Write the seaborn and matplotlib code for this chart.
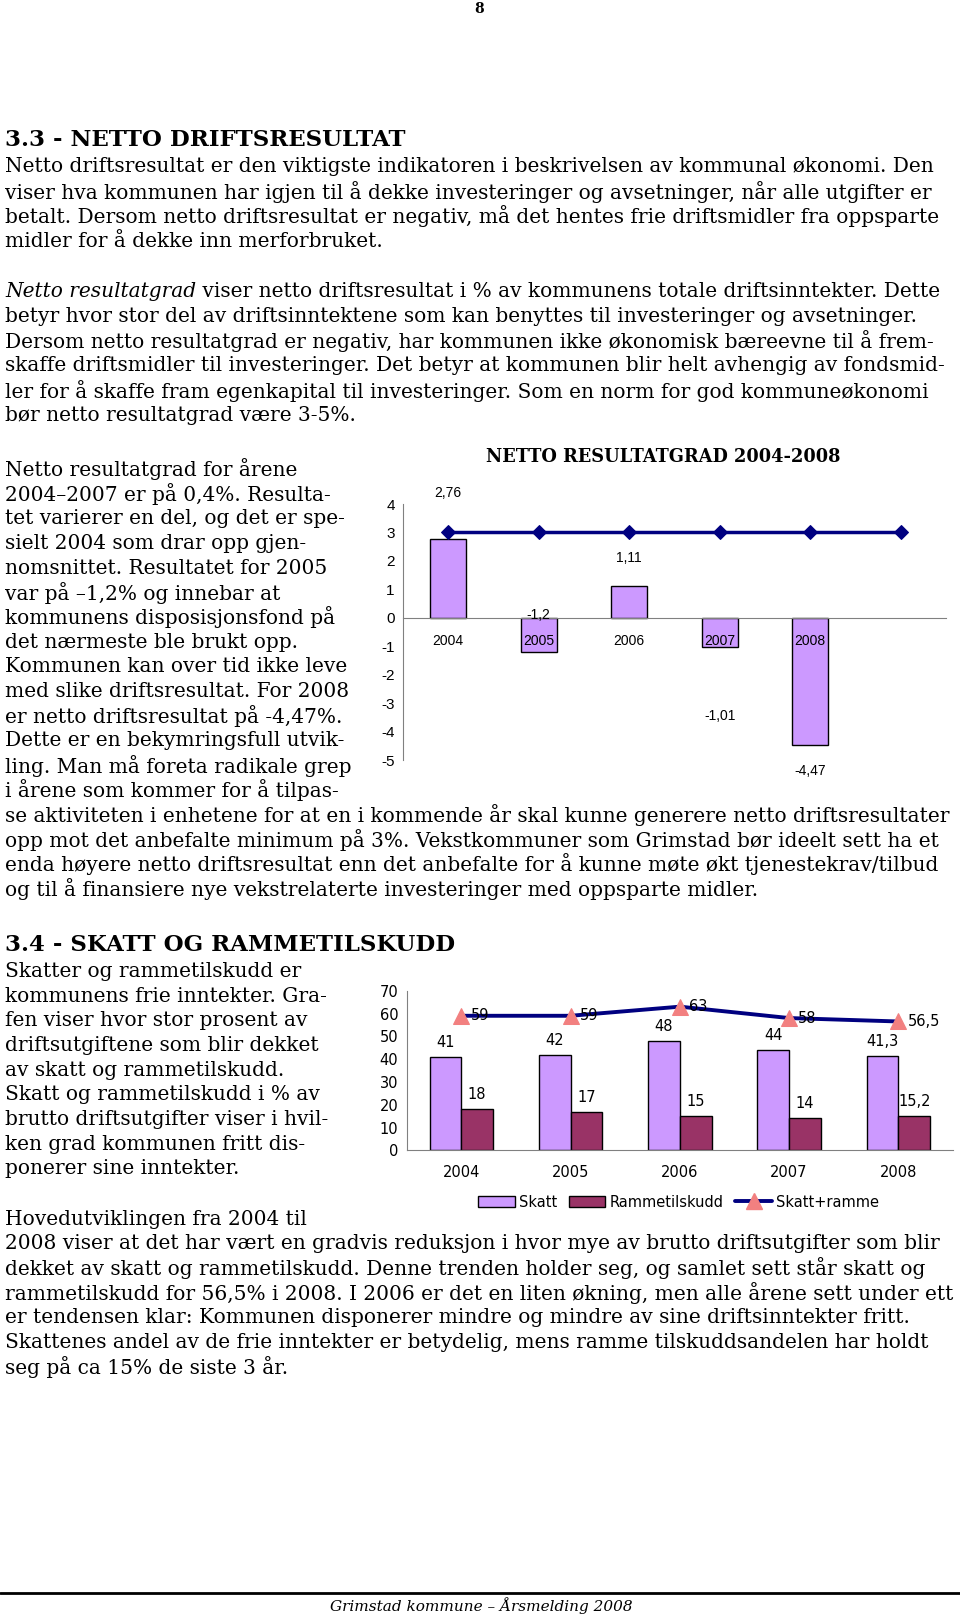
import numpy as np
import pandas as pd
import matplotlib
matplotlib.use('Agg')
import matplotlib.pyplot as plt
import seaborn as sns
from matplotlib.lines import Line2D
from matplotlib.patches import Patch

# ---- chart data ----
years = ['2004', '2005', '2006', '2007', '2008']

# netto resultatgrad (%), plus the 3 % norm line (one extra point after 2008)
netto = [2.76, -1.2, 1.11, -1.01, -4.47]
netto_labels = ['2,76', '-1,2', '1,11', '-1,01', '-4,47']
norm = [3, 3, 3, 3, 3, 3]

# skatt og rammetilskudd i % av brutto driftsutgifter
skatt = [41, 42, 48, 44, 41.3]
ramme = [18, 17, 15, 14, 15.2]
skatt_ramme = [59, 59, 63, 58, 56.5]
skatt_labels = ['41', '42', '48', '44', '41,3']
ramme_labels = ['18', '17', '15', '14', '15,2']
sum_labels = ['59', '59', '63', '58', '56,5']

# ---- page text ----
heading_33 = '3.3 - NETTO DRIFTSRESULTAT'
p1 = ['Netto driftsresultat er den viktigste indikatoren i beskrivelsen av kommunal økonomi. Den',
      'viser hva kommunen har igjen til å dekke investeringer og avsetninger, når alle utgifter er',
      'betalt. Dersom netto driftsresultat er negativ, må det hentes frie driftsmidler fra oppsparte',
      'midler for å dekke inn merforbruket.']
p2_italic = 'Netto resultatgrad'
p2 = [' viser netto driftsresultat i % av kommunens totale driftsinntekter. Dette',
      'betyr hvor stor del av driftsinntektene som kan benyttes til investeringer og avsetninger.',
      'Dersom netto resultatgrad er negativ, har kommunen ikke økonomisk bæreevne til å frem-',
      'skaffe driftsmidler til investeringer. Det betyr at kommunen blir helt avhengig av fondsmid-',
      'ler for å skaffe fram egenkapital til investeringer. Som en norm for god kommuneøkonomi',
      'bør netto resultatgrad være 3-5%.']
p3 = ['Netto resultatgrad for årene',
      '2004–2007 er på 0,4%. Resulta-',
      'tet varierer en del, og det er spe-',
      'sielt 2004 som drar opp gjen-',
      'nomsnittet. Resultatet for 2005',
      'var på –1,2% og innebar at',
      'kommunens disposisjonsfond på',
      'det nærmeste ble brukt opp.',
      'Kommunen kan over tid ikke leve',
      'med slike driftsresultat. For 2008',
      'er netto driftsresultat på -4,47%.',
      'Dette er en bekymringsfull utvik-',
      'ling. Man må foreta radikale grep',
      'i årene som kommer for å tilpas-',
      'se aktiviteten i enhetene for at en i kommende år skal kunne generere netto driftsresultater',
      'opp mot det anbefalte minimum på 3%. Vekstkommuner som Grimstad bør ideelt sett ha et',
      'enda høyere netto driftsresultat enn det anbefalte for å kunne møte økt tjenestekrav/tilbud',
      'og til å finansiere nye vekstrelaterte investeringer med oppsparte midler.']
heading_34 = '3.4 - SKATT OG RAMMETILSKUDD'
p4 = ['Skatter og rammetilskudd er',
      'kommunens frie inntekter. Gra-',
      'fen viser hvor stor prosent av',
      'driftsutgiftene som blir dekket',
      'av skatt og rammetilskudd.',
      'Skatt og rammetilskudd i % av',
      'brutto driftsutgifter viser i hvil-',
      'ken grad kommunen fritt dis-',
      'ponerer sine inntekter.']
p5 = ['Hovedutviklingen fra 2004 til',
      '2008 viser at det har vært en gradvis reduksjon i hvor mye av brutto driftsutgifter som blir',
      'dekket av skatt og rammetilskudd. Denne trenden holder seg, og samlet sett står skatt og',
      'rammetilskudd for 56,5% i 2008. I 2006 er det en liten økning, men alle årene sett under ett',
      'er tendensen klar: Kommunen disponerer mindre og mindre av sine driftsinntekter fritt.',
      'Skattenes andel av de frie inntekter er betydelig, mens ramme tilskuddsandelen har holdt',
      'seg på ca 15% de siste 3 år.']
footer = 'Grimstad kommune – Årsmelding 2008'

sns.set_style('white')
plt.rcParams['font.family'] = ['DejaVu Serif']
plt.rcParams['text.color'] = 'black'
plt.rcParams['xtick.labelcolor'] = 'black'
plt.rcParams['ytick.labelcolor'] = 'black'

W, H = 960, 1617
fig = plt.figure(figsize=(W / 100, H / 100), dpi=100)
renderer = fig.canvas.get_renderer()
SERIF = 'DejaVu Serif'
SANS = ['Liberation Sans', 'DejaVu Sans']
LAV = '#CC99FF'
MAROON = '#993366'
NAVY = '#000080'
PINK = '#F28080'


def fx(x):
    return x / W


def fy(y):
    return 1 - y / H


# fit the body font so the widest full-width line still fits the page
probe_lines = [p1[0], p3[14], p5[3]]
widest = 0
for line in probe_lines:
    probe = fig.text(0, 0, line, fontsize=10, family=SERIF)
    widest = max(widest, probe.get_window_extent(renderer).width)
    probe.remove()
body = 10 * 946 / widest
STEP = 24.7


def block(lines, y0, x=5):
    for i, line in enumerate(lines):
        fig.text(fx(x), fy(y0 + i * STEP), line, fontsize=body, family=SERIF, va='center')


fig.text(fx(479), fy(9), '8', fontsize=10, family=SERIF, weight='bold', ha='center', va='center')
fig.text(fx(5), fy(140), heading_33, fontsize=16.5, family=SERIF, weight='bold', va='center')
block(p1, 167)
it = fig.text(fx(5), fy(291.8), p2_italic, fontsize=body, family=SERIF, style='italic', va='center')
w_it = it.get_window_extent(renderer).width
fig.text(fx(5 + w_it), fy(291.8), p2[0], fontsize=body, family=SERIF, va='center')
block(p2[1:], 291.8 + STEP)
block(p3, 469.2)
fig.text(fx(5), fy(944.6), heading_34, fontsize=16.5, family=SERIF, weight='bold', va='center')
block(p4, 971.4)
block(p5, 1219)

fig.add_artist(Line2D([0, 1], [fy(1593), fy(1593)], transform=fig.transFigure, color='black', lw=2))
fig.text(fx(481), fy(1606), footer, fontsize=11, family=SERIF, style='italic', ha='center', va='center')

# ---- chart 1: netto resultatgrad ----
ax1 = fig.add_axes([fx(403), fy(760), 543 / W, 256 / H])
x1 = np.arange(len(years))
sns.barplot(x=x1, y=netto, native_scale=True, width=0.4, color=LAV, saturation=1,
            edgecolor='black', linewidth=1, ax=ax1)
sns.lineplot(x=np.arange(len(norm)), y=norm, color=NAVY, linewidth=2.5, marker='D', markersize=7,
             markeredgecolor=NAVY, errorbar=None, ax=ax1)
ax1.set_xlim(-0.5, 5.5)
ax1.set_ylim(-5, 4)
ax1.spines[['top', 'right']].set_visible(False)
ax1.spines['bottom'].set_position(('data', 0))
for s in ['left', 'bottom']:
    ax1.spines[s].set_color('#808080')
ax1.set_yticks(range(-5, 5))
ax1.set_yticklabels([str(v) for v in range(-5, 5)], family=SANS, fontsize=11)
ax1.set_xticks(np.arange(0.5, 6, 1))
ax1.set_xticklabels([])
ax1.tick_params(axis='x', direction='inout', length=6.7, color='#808080')
ax1.tick_params(axis='y', direction='out', length=3.5, pad=2.5, color='#808080')
ax1.set_xlabel('')
ax1.set_ylabel('')
label_y = [4.4, 0.1, 2.1, -3.45, -5.4]
for i, yr in enumerate(years):
    ax1.text(i, -0.8, yr, ha='center', va='center', fontsize=10, family=SANS)
    ax1.text(i, label_y[i], netto_labels[i], ha='center', va='center', fontsize=10, family=SANS)
fig.text(fx(663), fy(457), 'NETTO RESULTATGRAD 2004-2008', fontsize=12.8, family=SERIF,
         weight='bold', ha='center', va='center')

# ---- chart 2: skatt og rammetilskudd ----
ax2 = fig.add_axes([fx(406.7), fy(1150.3), 546.3 / W, 159.6 / H])
yr_num = [int(y) for y in years]
df2 = pd.DataFrame({'year': yr_num * 2,
                    'andel': skatt + ramme,
                    'serie': ['Skatt'] * len(skatt) + ['Rammetilskudd'] * len(ramme)})
sns.barplot(data=df2, x='year', y='andel', hue='serie', native_scale=True, width=0.58, gap=0,
            palette=[LAV, MAROON], saturation=1, edgecolor='black', linewidth=1, legend=False, ax=ax2)
sns.lineplot(x=yr_num, y=skatt_ramme, color=NAVY, linewidth=2.8, marker='^', markersize=11,
             markerfacecolor=PINK, markeredgecolor=PINK, errorbar=None, ax=ax2)
ax2.set_xlim(2003.5, 2008.5)
ax2.set_ylim(0, 70)
ax2.spines[['top', 'right']].set_visible(False)
for s in ['left', 'bottom']:
    ax2.spines[s].set_color('#808080')
ax2.set_yticks(range(0, 71, 10))
ax2.set_yticklabels([str(v) for v in range(0, 71, 10)], family='DejaVu Sans', fontsize=10.5)
ax2.set_xticks(yr_num)
ax2.set_xticklabels(years, family='DejaVu Sans', fontsize=10.5)
ax2.set_xticks(np.arange(2004.5, 2009, 1), minor=True)
ax2.tick_params(axis='x', which='major', length=0, pad=10.5)
ax2.tick_params(axis='x', which='minor', direction='out', length=4, color='#808080')
ax2.tick_params(axis='y', direction='out', length=3.5, pad=2.5, color='#808080')
ax2.set_xlabel('')
ax2.set_ylabel('')
ax2.bar_label(ax2.containers[0], labels=skatt_labels, padding=5, family='DejaVu Sans', fontsize=10.5)
ax2.bar_label(ax2.containers[1], labels=ramme_labels, padding=5, family='DejaVu Sans', fontsize=10.5)
for xv, v, lab in zip(yr_num, skatt_ramme, sum_labels):
    ax2.annotate(lab, (xv, v), xytext=(9, 0), textcoords='offset pixels', va='center', ha='left',
                 family='DejaVu Sans', fontsize=10.5)
handles = [Patch(facecolor=LAV, edgecolor='black', label='Skatt'),
           Patch(facecolor=MAROON, edgecolor='black', label='Rammetilskudd'),
           Line2D([], [], color=NAVY, lw=2.8, marker='^', markersize=11, markerfacecolor=PINK,
                  markeredgecolor=PINK, label='Skatt+ramme')]
ax2.legend(handles=handles, loc='center', bbox_to_anchor=(0.498, -0.324), ncol=3, frameon=False,
           prop={'family': 'DejaVu Sans', 'size': 10.5}, handlelength=2.5, handleheight=0.8,
           handletextpad=0.3, columnspacing=0.8)

fig.savefig('out.png', dpi=100)
